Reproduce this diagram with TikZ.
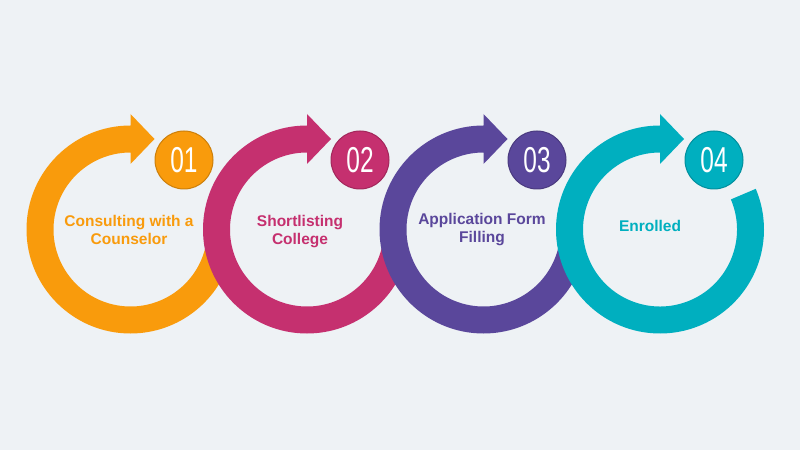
\documentclass[tikz,border=0pt]{standalone}
\usepackage{fontspec}
\setmainfont{Liberation Sans}
\usepackage{graphicx}
\usepackage{tikz}

\definecolor{bgcol}{HTML}{EEF2F5}
\definecolor{orangec}{HTML}{F99B0C}
\definecolor{pinkc}{HTML}{C5306F}
\definecolor{purplec}{HTML}{5A479B}
\definecolor{tealc}{HTML}{00AFBF}

\newcommand{\numtxt}[1]{\scalebox{0.68}[1]{#1}}

\tikzset{
    numdisc/.style={circle, minimum size=58pt, inner sep=0pt, fill=#1,
        draw=#1!82!black, line width=1pt, text=white,
        font=\fontsize{36}{36}\selectfont},
    steplabel/.style={text=#1, align=center,
        font=\bfseries\fontsize{15.5}{18}\selectfont},
}

\begin{document}
\begin{tikzpicture}[x=1pt, y=1pt]
    % Background
    \fill[bgcol] (0,0) rectangle (800,450);
    \useasboundingbox (0,0) rectangle (800,450);

    % Step 1 ring
    \begin{scope}[shift={(130.5,220.5)}]
        \fill[orangec] (90:104) arc[start angle=90, end angle=347, radius=104]
            -- (347:77) arc[start angle=347, end angle=90, radius=77]
            -- (0,65.5) -- (24,90.5) -- (0,115.5) -- cycle;
    \end{scope}

    % Step 2 ring
    \begin{scope}[shift={(307,220.5)}]
        \fill[pinkc] (90:104) arc[start angle=90, end angle=347, radius=104]
            -- (347:77) arc[start angle=347, end angle=90, radius=77]
            -- (0,65.5) -- (24,90.5) -- (0,115.5) -- cycle;
    \end{scope}

    % Step 3 ring
    \begin{scope}[shift={(483.5,220.5)}]
        \fill[purplec] (90:104) arc[start angle=90, end angle=347, radius=104]
            -- (347:77) arc[start angle=347, end angle=90, radius=77]
            -- (0,65.5) -- (24,90.5) -- (0,115.5) -- cycle;
    \end{scope}

    % Step 4 ring (open end visible)
    \begin{scope}[shift={(660,220.5)}]
        \fill[tealc] (90:104) arc[start angle=90, end angle=383, radius=104]
            -- (383:77) arc[start angle=383, end angle=90, radius=77]
            -- (0,65.5) -- (24,90.5) -- (0,115.5) -- cycle;
    \end{scope}

    % Step numbers
    \node[numdisc=orangec] (n1) at (184,290) {\numtxt{01}};
    \node[numdisc=pinkc] (n2) at (360,290) {\numtxt{02}};
    \node[numdisc=purplec] (n3) at (537,290) {\numtxt{03}};
    \node[numdisc=tealc] (n4) at (714,290) {\numtxt{04}};

    % Step labels
    \node[steplabel=orangec] (l1) at (129,220) {Consulting with a\\Counselor};
    \node[steplabel=pinkc] (l2) at (300,218) {Shortlisting\\College};
    \node[steplabel=purplec] (l3) at (482,220) {Application Form\\Filling};
    \node[steplabel=tealc] (l4) at (650,224) {Enrolled};
\end{tikzpicture}
\end{document}
